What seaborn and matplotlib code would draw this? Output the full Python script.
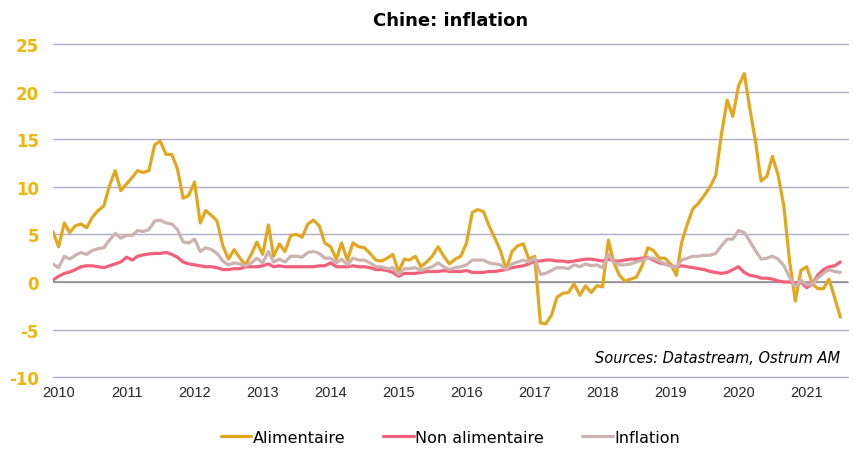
import numpy as np
import pandas as pd
import seaborn as sns
import matplotlib.pyplot as plt
import matplotlib.dates as mdates

# monthly y/y, Dec 2009 -> Jul 2021
dates = pd.date_range("2009-12-01", "2021-07-01", freq="MS")

alimentaire = [5.3,
    3.7, 6.2, 5.2, 5.9, 6.1, 5.7, 6.8, 7.5, 8.0, 10.1, 11.7, 9.6,
    10.3, 11.0, 11.7, 11.5, 11.7, 14.4, 14.8, 13.4, 13.4, 11.9, 8.8, 9.1,
    10.5, 6.2, 7.5, 7.0, 6.4, 3.8, 2.4, 3.4, 2.5, 1.8, 2.9, 4.2,
    2.9, 6.0, 2.7, 4.0, 3.2, 4.9, 5.0, 4.7, 6.1, 6.5, 5.9, 4.1,
    3.7, 2.4, 4.1, 2.3, 4.1, 3.7, 3.6, 3.0, 2.3, 2.2, 2.5, 2.9,
    1.1, 2.4, 2.3, 2.7, 1.6, 2.1, 2.7, 3.7, 2.7, 1.9, 2.4, 2.7,
    4.1, 7.3, 7.6, 7.4, 5.9, 4.6, 3.3, 1.3, 3.2, 3.8, 4.0, 2.4,
    2.7, -4.3, -4.4, -3.5, -1.6, -1.2, -1.1, -0.2, -1.4, -0.4, -1.1, -0.4,
    -0.5, 4.4, 2.1, 0.7, 0.1, 0.3, 0.5, 1.7, 3.6, 3.3, 2.5, 2.5,
    1.9, 0.7, 4.1, 6.1, 7.7, 8.3, 9.1, 10.0, 11.2, 15.5, 19.1, 17.4,
    20.6, 21.9, 18.3, 14.8, 10.6, 11.1, 13.2, 11.2, 7.9, 2.2, -2.0, 1.2,
    1.6, -0.2, -0.7, -0.7, 0.3, -1.7, -3.7]

non_alimentaire = [0.2,
    0.6, 0.9, 1.05, 1.3, 1.6, 1.7, 1.7, 1.6, 1.5, 1.7, 1.9, 2.1,
    2.6, 2.3, 2.7, 2.85, 2.95, 3.0, 3.0, 3.1, 2.9, 2.6, 2.1, 1.9,
    1.8, 1.7, 1.6, 1.6, 1.5, 1.3, 1.3, 1.4, 1.4, 1.6, 1.6, 1.6,
    1.7, 1.9, 1.6, 1.7, 1.6, 1.6, 1.6, 1.6, 1.6, 1.6, 1.7, 1.7,
    2.0, 1.6, 1.6, 1.6, 1.7, 1.6, 1.6, 1.5, 1.3, 1.3, 1.2, 1.0,
    0.6, 0.9, 0.9, 0.9, 1.0, 1.1, 1.1, 1.1, 1.2, 1.1, 1.1, 1.1,
    1.2, 1.0, 1.0, 1.0, 1.1, 1.1, 1.2, 1.3, 1.5, 1.6, 1.7, 1.9,
    2.2, 2.2, 2.3, 2.3, 2.2, 2.2, 2.1, 2.2, 2.3, 2.4, 2.4, 2.3,
    2.2, 2.4, 2.2, 2.2, 2.3, 2.4, 2.4, 2.5, 2.55, 2.3, 2.0, 1.9,
    1.7, 1.6, 1.7, 1.6, 1.5, 1.4, 1.3, 1.1, 1.0, 0.9, 1.0, 1.3,
    1.6, 1.0, 0.7, 0.6, 0.4, 0.4, 0.3, 0.1, 0.0, 0.0, -0.1, 0.0,
    -0.6, -0.2, 0.7, 1.3, 1.6, 1.7, 2.1]

inflation = [1.9,
    1.5, 2.7, 2.4, 2.8, 3.1, 2.9, 3.3, 3.5, 3.6, 4.4, 5.1, 4.6,
    4.9, 4.9, 5.4, 5.3, 5.5, 6.4, 6.5, 6.2, 6.1, 5.5, 4.2, 4.1,
    4.5, 3.2, 3.6, 3.4, 3.0, 2.2, 1.8, 2.0, 1.9, 1.7, 2.0, 2.5,
    2.0, 3.2, 2.1, 2.4, 2.1, 2.7, 2.7, 2.6, 3.1, 3.2, 3.0, 2.5,
    2.5, 2.0, 2.4, 1.8, 2.5, 2.3, 2.3, 2.0, 1.6, 1.6, 1.4, 1.5,
    0.8, 1.4, 1.4, 1.5, 1.2, 1.4, 1.6, 2.0, 1.6, 1.3, 1.5, 1.6,
    1.8, 2.3, 2.3, 2.3, 2.0, 1.9, 1.8, 1.3, 1.9, 2.1, 2.3, 2.1,
    2.5, 0.8, 0.9, 1.2, 1.5, 1.5, 1.4, 1.8, 1.6, 1.9, 1.7, 1.8,
    1.5, 2.9, 2.1, 1.8, 1.8, 1.9, 2.1, 2.3, 2.5, 2.5, 2.2, 1.9,
    1.7, 1.5, 2.3, 2.5, 2.7, 2.7, 2.8, 2.8, 3.0, 3.8, 4.5, 4.5,
    5.4, 5.2, 4.3, 3.3, 2.4, 2.5, 2.7, 2.4, 1.7, 0.5, -0.5, 0.2,
    -0.3, -0.2, 0.4, 0.9, 1.3, 1.1, 1.0]

series = ["Alimentaire", "Non alimentaire", "Inflation"]
colors = ["#E3A71F", "#F4607B", "#CDB3B0"]
yticks = [-10, -5, 0, 5, 10, 15, 20, 25]
years = list(range(2010, 2022))

df = pd.DataFrame({"date": dates, "Alimentaire": alimentaire,
                   "Non alimentaire": non_alimentaire, "Inflation": inflation})
long = df.melt(id_vars="date", var_name="serie", value_name="val")

sns.set_style("white")
plt.rcParams['font.family'] = ['DejaVu Sans']

fig, ax = plt.subplots(figsize=(8.66, 4.64), dpi=100)
fig.subplots_adjust(left=0.061, right=0.979, top=0.903, bottom=0.185)

# grid
for y in yticks:
    ax.axhline(y, color="#ADADC8", lw=1.0, zorder=0, clip_on=False)
ax.axhline(0, color="#8C8C8C", lw=1.1, zorder=0)

sns.lineplot(data=long, x="date", y="val", hue="serie", hue_order=series,
             palette=colors, linewidth=2.3, ax=ax, legend=True)

ax.set_ylim(-10, 25)
ax.set_yticks(yticks)
ax.set_yticklabels([str(v) for v in yticks], color="#F2B50A",
                   fontweight="bold", fontsize=12)
ax.set_xlim(pd.Timestamp("2009-12-01"), pd.Timestamp("2021-08-10"))
ax.set_xticks([pd.Timestamp(f"{y}-01-01") for y in years])
ax.set_xticklabels([str(y) for y in years], fontsize=10.5,
                   family="Liberation Sans")
ax.tick_params(axis="both", length=0, pad=6)
ax.tick_params(axis="y", pad=10)
ax.set_xlabel("")
ax.set_ylabel("")
for s in ax.spines.values():
    s.set_visible(False)

ax.set_title("Chine: inflation", fontsize=13, fontweight="bold", pad=14,
             color="black")

ax.text(0.99, 0.06, "Sources: Datastream, Ostrum AM", transform=ax.transAxes,
        ha="right", va="center", fontsize=10.5, style="italic", color="black")

leg = ax.legend(loc="upper center", bbox_to_anchor=(0.5, -0.115), ncol=3,
                frameon=False, fontsize=11.5, handlelength=1.9,
                handletextpad=0.1, columnspacing=2.4)
for l in leg.get_lines():
    l.set_linewidth(2.3)
for t in leg.get_texts():
    t.set_color("black")

plt.savefig("out.png", dpi=100)
